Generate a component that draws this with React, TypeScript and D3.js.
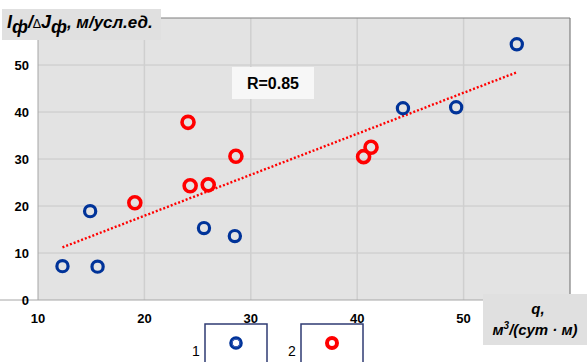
import React from "react";
import * as d3 from "d3";

// Group 1 (blue) and group 2 (red) observations: q vs Iф/ΔJф
const group1Q = [12.3, 15.6, 14.9, 25.6, 28.5, 44.3, 49.3, 55.0];
const group1I = [7.2, 7.1, 18.9, 15.3, 13.6, 40.8, 41.0, 54.4];
const group2Q = [19.1, 24.1, 24.3, 26.0, 28.6, 40.6, 41.3];
const group2I = [20.7, 37.8, 24.3, 24.5, 30.6, 30.5, 32.5];

const xTicks = [10, 20, 30, 40, 50];
const yTicks = [0, 10, 20, 30, 40, 50];
const rLabel = "R=0.85";
const legendLabels = ["1", "2"];

const W = 587;
const H = 362;
const FONT = "'Liberation Sans', Arial, sans-serif";
const BLUE = "#003399";
const RED = "#ff0000";

export default function App() {
  const x = d3.scaleLinear().domain([10, 60]).range([38, 570]);
  const y = d3.scaleLinear().domain([0, 60]).range([300, 18]);

  const pts1 = group1Q.map((q, i) => ({ q, v: group1I[i] }));
  const pts2 = group2Q.map((q, i) => ({ q, v: group2I[i] }));
  const all = [...pts1, ...pts2];

  // least-squares trend line over both groups
  const mx = d3.mean(all, (d) => d.q)!;
  const my = d3.mean(all, (d) => d.v)!;
  const sxy = d3.sum(all, (d) => (d.q - mx) * (d.v - my));
  const sxx = d3.sum(all, (d) => (d.q - mx) ** 2);
  const slope = sxy / sxx;
  const intercept = my - slope * mx;
  const [qMin, qMax] = d3.extent(all, (d) => d.q) as [number, number];
  const trend = d3
    .line<number>()
    .x((q) => x(q))
    .y((q) => y(intercept + slope * q))([qMin, qMax]);

  const [x0, x1] = x.range();
  const [y0, y1] = y.range();

  return (
    <svg
      width={W}
      height={H}
      style={{ position: "absolute", left: 0, top: 0, background: "#fff" }}
      fontFamily={FONT}
    >
      {/* plot area */}
      <rect x={x0} y={y1} width={x1 - x0} height={y0 - y1} fill="#e3e3e3" />
      {y.ticks(6)
        .filter((t) => t > 0 && t < 60)
        .map((t) => (
          <line key={"gy" + t} x1={x0} x2={x1} y1={y(t)} y2={y(t)} stroke="#c8c8c8" strokeWidth={1} />
        ))}
      {x.ticks(5)
        .filter((t) => t > 10 && t < 60)
        .map((t) => (
          <line key={"gx" + t} x1={x(t)} x2={x(t)} y1={y1} y2={y0} stroke="#cfcfcf" strokeWidth={1.5} />
        ))}
      <line x1={x0} x2={x1} y1={y1} y2={y1} stroke="#7f7f7f" strokeWidth={1.2} />
      <line x1={x1} x2={x1} y1={y1} y2={y0} stroke="#7f7f7f" strokeWidth={1.2} />
      <line x1={x0} x2={x0} y1={y1} y2={y0} stroke="#a6a6a6" strokeWidth={1} />
      <line x1={0} x2={x1} y1={y0} y2={y0} stroke="#a6a6a6" strokeWidth={1} />

      {/* trend line */}
      <path d={trend!} stroke={RED} strokeWidth={2.4} strokeDasharray="2 2" fill="none" />

      {/* markers */}
      {pts1.map((d, i) => (
        <circle key={"b" + i} cx={x(d.q)} cy={y(d.v)} r={5.6} fill="none" stroke={BLUE} strokeWidth={3.2} />
      ))}
      {pts2.map((d, i) => (
        <circle key={"r" + i} cx={x(d.q)} cy={y(d.v)} r={6} fill="none" stroke={RED} strokeWidth={3.6} />
      ))}

      {/* y tick labels */}
      {yTicks.map((t) => (
        <text key={"ty" + t} x={29} y={y(t) + 5} textAnchor="end" fontSize={13} fontWeight="bold" fill="#000">
          {t}
        </text>
      ))}
      {/* x tick labels */}
      {xTicks.map((t) => (
        <text key={"tx" + t} x={x(t)} y={323} textAnchor="middle" fontSize={13} fontWeight="bold" fill="#000">
          {t}
        </text>
      ))}

      {/* correlation label */}
      <rect x={232} y={67} width={82} height={32} fill="#f7f7f7" />
      <text x={273} y={89} textAnchor="middle" fontSize={16} fontWeight="bold" fill="#000">
        {rLabel}
      </text>

      {/* y axis title */}
      <rect x={2} y={9} width={159} height={31} fill="#e0e0e0" />
      <text x={7} y={28} fontSize={18} fontWeight="bold" fontStyle="italic" fill="#000">
        <tspan>I</tspan>
        <tspan dy={5}>ф</tspan>
        <tspan dy={-5}>/</tspan>
        <tspan fontSize={13} fontWeight="normal">∆</tspan>
        <tspan>J</tspan>
        <tspan dy={5}>ф</tspan>
        <tspan dy={-5} fontSize={17}>, м/усл.ед.</tspan>
      </text>

      {/* x axis title */}
      <rect x={483} y={294} width={104} height={51} fill="#e0e0e0" />
      <text x={538} y={314} textAnchor="middle" fontSize={15} fontWeight="bold" fontStyle="italic" fill="#000">
        q,
      </text>
      <text x={535} y={335} textAnchor="middle" fontSize={15} fontWeight="bold" fontStyle="italic" fill="#000">
        <tspan>м</tspan>
        <tspan dy={-6} fontSize={10}>3</tspan>
        <tspan dy={6}>/(сут · м)</tspan>
      </text>

      {/* legend */}
      <text x={196} y={356} textAnchor="middle" fontSize={14} fill="#000">{legendLabels[0]}</text>
      <rect x={205} y={324} width={62} height={40} fill="#fff" stroke="#2f3b73" strokeWidth={1.5} />
      <circle cx={236} cy={343} r={5} fill="none" stroke={BLUE} strokeWidth={3.6} />
      <circle cx={236} cy={343} r={4} fill="none" stroke="#3f63b8" strokeWidth={1} />
      <text x={292} y={356} textAnchor="middle" fontSize={14} fill="#000">{legendLabels[1]}</text>
      <rect x={301} y={324} width={62} height={40} fill="#fff" stroke="#2f3b73" strokeWidth={1.5} />
      <circle cx={332} cy={343} r={5} fill="none" stroke={RED} strokeWidth={4} />
    </svg>
  );
}
